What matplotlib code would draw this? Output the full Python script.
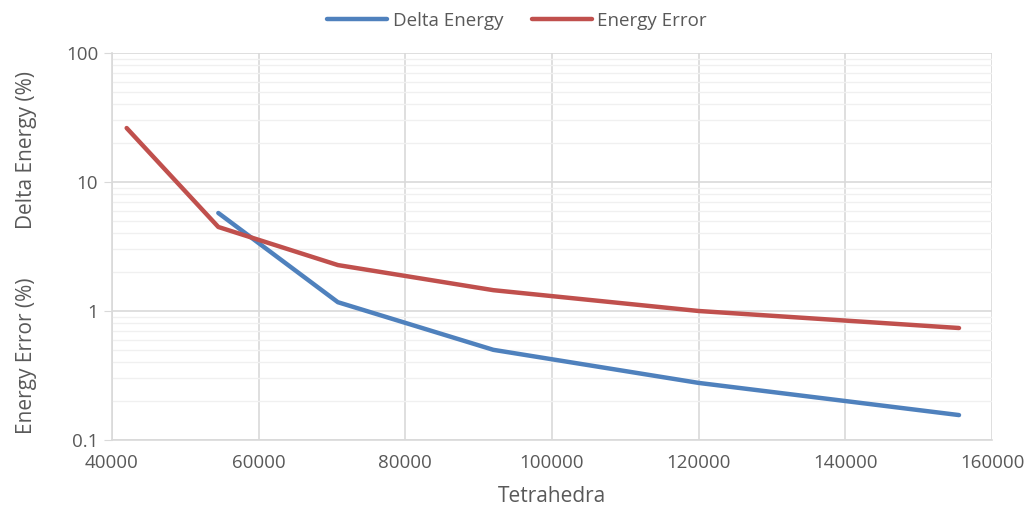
import matplotlib.pyplot as plt
import matplotlib.ticker as mticker

plt.rcParams["font.family"] = ["Open Sans", "DejaVu Sans"]

tetrahedra = [42000, 54500, 70800, 92000, 120000, 155500]
delta_x = tetrahedra[1:]
delta_energy = [5.75, 1.17, 0.50, 0.277, 0.156]
energy_error = [26.2, 4.48, 2.27, 1.45, 1.0, 0.738]

TEXT = "#595959"

fig = plt.figure(figsize=(10.34, 5.16), dpi=100)
ax = fig.add_axes([0.1083, 0.1473, 0.8511, 0.75])

ax.plot(delta_x, delta_energy, color="#4F81BD", lw=3.2, label="Delta Energy",
        solid_capstyle="round")
ax.plot(tetrahedra, energy_error, color="#C0504D", lw=3.2, label="Energy Error",
        solid_capstyle="round")

ax.set_yscale("log")
ax.set_ylim(0.1, 100)
ax.set_xlim(40000, 160000)
ax.xaxis.set_major_locator(mticker.MultipleLocator(20000))
ax.yaxis.set_major_formatter(mticker.FuncFormatter(lambda v, p: f"{v:g}"))
ax.yaxis.set_minor_formatter(mticker.NullFormatter())

ax.grid(True, which="major", color="#D9D9D9", lw=1.2)
ax.grid(True, which="minor", axis="y", color="#F0F0F0", lw=1.0)
ax.set_axisbelow(True)
for s in ax.spines.values():
    s.set_color("#D9D9D9")
    s.set_linewidth(1.2)
ax.spines["top"].set_visible(False)
ax.spines["right"].set_visible(False)

ax.tick_params(axis="y", which="major", length=6, color="#D9D9D9", labelcolor=TEXT,
               labelsize=13.5, pad=4)
ax.tick_params(axis="y", which="minor", length=0)
ax.tick_params(axis="x", length=0, labelcolor=TEXT, labelsize=13.5, pad=10)

ax.set_xlabel("Tetrahedra", color=TEXT, fontsize=15, labelpad=10)
fig.text(0.026, 0.71, "Delta Energy (%)", rotation=90, color=TEXT, fontsize=15,
         ha="center", va="center")
fig.text(0.026, 0.31, "Energy Error (%)", rotation=90, color=TEXT, fontsize=15,
         ha="center", va="center")

leg = fig.legend(loc="upper center", bbox_to_anchor=(0.5, 1.01), ncol=2, frameon=False,
                 fontsize=13.5, handlelength=3.2, columnspacing=1.5, handletextpad=0.3)
for t in leg.get_texts():
    t.set_color(TEXT)

fig.savefig("out.png", dpi=100)
